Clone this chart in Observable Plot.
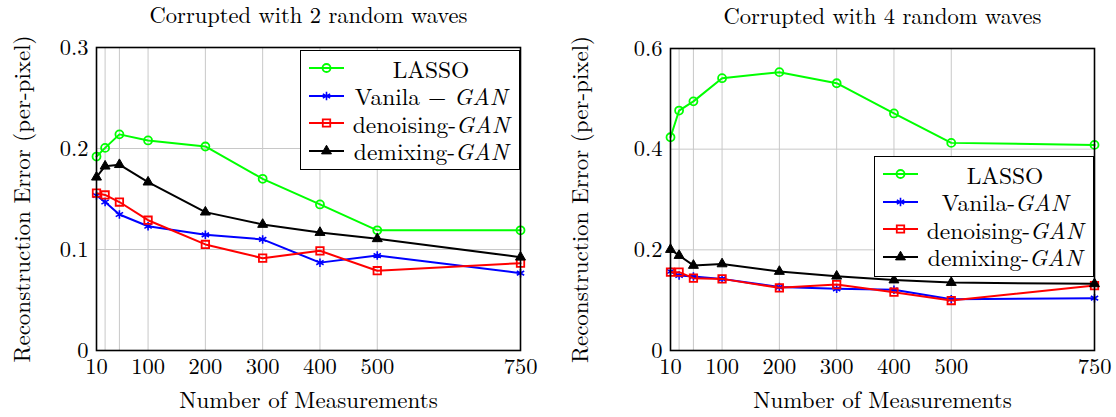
<!DOCTYPE html>
<html>
<head>
<meta charset="utf-8">
<script src="https://cdn.jsdelivr.net/npm/d3@7"></script>
<script src="https://cdn.jsdelivr.net/npm/@observablehq/plot@0.6"></script>
<style>
  html, body { margin: 0; padding: 0; background: white; }
  #wrap { position: relative; width: 1116px; height: 417px; font-family: "Latin Modern Roman", "Liberation Serif", serif; }
  .panel { position: absolute; top: 0; }
  .legend { position: absolute; background: white; border: 1.6px solid black; box-sizing: border-box; }
  .row { position: absolute; left: 0; width: 100%; height: 25px; }
  .row svg { position: absolute; left: 6px; top: 2.5px; }
  .row .lbl { position: absolute; left: 44px; width: 172px; text-align: center; font-size: 23.5px; line-height: 25px; height: 25px; top: 0; color: black; white-space: nowrap; }
</style>
</head>
<body>
<div id="wrap"></div>
<script>
// ---- data ----
const measurements = [10, 25, 50, 100, 200, 300, 400, 500, 750];
const xTickLabels = [10, 100, 200, 300, 400, 500, 750];
const seriesNames = ["LASSO", "Vanila-GAN", "denoising-GAN", "demixing-GAN"];

// Corrupted with 2 random waves
const lasso2    = [0.192, 0.2006, 0.214, 0.208, 0.202, 0.170, 0.1446, 0.119, 0.119];
const vanila2   = [0.1535, 0.147, 0.1347, 0.123, 0.1145, 0.110, 0.087, 0.094, 0.0766];
const denoise2  = [0.1558, 0.154, 0.147, 0.129, 0.105, 0.0914, 0.0987, 0.079, 0.0865];
const demix2    = [0.1716, 0.1825, 0.184, 0.1667, 0.137, 0.1248, 0.1168, 0.1106, 0.0924];
const yTicks2   = [0, 0.1, 0.2, 0.3];

// Corrupted with 4 random waves
const lasso4    = [0.4237, 0.4767, 0.495, 0.541, 0.553, 0.531, 0.471, 0.4125, 0.4085];
const vanila4   = [0.157, 0.149, 0.147, 0.1423, 0.126, 0.1225, 0.1205, 0.102, 0.104];
const denoise4  = [0.1556, 0.1556, 0.1437, 0.1423, 0.1245, 0.131, 0.1158, 0.0993, 0.129];
const demix4    = [0.2006, 0.1887, 0.169, 0.172, 0.157, 0.1476, 0.140, 0.135, 0.1324];
const yTicks4   = [0, 0.2, 0.4, 0.6];

// ---- styles ----
const FONT = '"Latin Modern Roman", "Liberation Serif", serif';
const styles = [
  {color: "#00ff00", symbol: "circle", r: 4, fill: "none", sw: 1.8},
  {color: "#0000ff", symbol: "asterisk", r: 4, fill: "none", sw: 1.6},
  {color: "#ff0000", symbol: "square", r: 4.2, fill: "none", sw: 1.8},
  {color: "#000000", symbol: "triangle", r: 3.7, fill: "#000000", sw: 1}
];

function makePanel({title, series, yTicks, marginLeft, marginRight, marginTop}) {
  const marks = [
    Plot.gridX(measurements, {stroke: "#c8c8c8", strokeOpacity: 1, strokeWidth: 1}),
    Plot.gridY(yTicks, {stroke: "#c8c8c8", strokeOpacity: 1, strokeWidth: 1}),
    Plot.axisX(xTickLabels, {tickSize: 0, tickPadding: 8, fontSize: 22.5, label: null, tickFormat: d => String(d)}),
    Plot.axisY(yTicks, {tickSize: 0, tickPadding: 8, fontSize: 22.5, label: null, tickFormat: d => d === 0 ? "0" : String(d)})
  ];
  series.forEach((vals, i) => {
    const s = styles[i];
    const data = measurements.map((m, j) => ({m, v: vals[j]}));
    marks.push(Plot.line(data, {x: "m", y: "v", stroke: s.color, strokeWidth: 2}));
    marks.push(Plot.dot(data, {x: "m", y: "v", symbol: () => s.symbol, r: s.r, stroke: s.color, fill: s.fill, strokeWidth: s.sw}));
  });
  marks.push(Plot.frame({stroke: "black", strokeWidth: 1.6}));
  marks.push(Plot.text([title], {text: d => d, frameAnchor: "top", dy: -32, fontSize: 22.5, lineAnchor: "middle", textAnchor: "middle", fill: "black"}));
  marks.push(Plot.text(["Number of Measurements"], {text: d => d, frameAnchor: "bottom", dy: 50, fontSize: 23, lineAnchor: "middle", textAnchor: "middle", fill: "black"}));
  marks.push(Plot.text(["Reconstruction Error (per-pixel)"], {text: d => d, frameAnchor: "left", dx: -(marginLeft - 22), rotate: -90, fontSize: 23, lineAnchor: "middle", textAnchor: "middle", fill: "black"}));
  return Plot.plot({
    width: 558, height: 417,
    marginLeft, marginRight, marginTop, marginBottom: 67,
    x: {type: "linear", domain: [10, 750]},
    y: {type: "linear", domain: [yTicks[0], yTicks[yTicks.length - 1]]},
    style: {fontFamily: FONT, background: "white", color: "black"},
    marks
  });
}

const wrap = document.getElementById("wrap");
const p1 = makePanel({title: "Corrupted with 2 random waves", series: [lasso2, vanila2, denoise2, demix2], yTicks: yTicks2, marginLeft: 96, marginRight: 38, marginTop: 47});
p1.classList.add("panel"); p1.style.left = "0px";
wrap.appendChild(p1);
const p2 = makePanel({title: "Corrupted with 4 random waves", series: [lasso4, vanila4, denoise4, demix4], yTicks: yTicks4, marginLeft: 112, marginRight: 22, marginTop: 48});
p2.classList.add("panel"); p2.style.left = "558px";
wrap.appendChild(p2);

// ---- legends ----
function symbolPath(i) {
  const s = styles[i];
  const map = {circle: d3.symbolCircle, asterisk: d3.symbolAsterisk, square: d3.symbolSquare, triangle: d3.symbolTriangle};
  return d3.symbol(map[s.symbol], Math.PI * s.r * s.r)();
}
function makeLegend(left, top, width, height, labels) {
  const div = document.createElement("div");
  div.className = "legend";
  div.style.left = left + "px"; div.style.top = top + "px";
  div.style.width = width + "px"; div.style.height = height + "px";
  labels.forEach((lab, i) => {
    const s = styles[i];
    const row = document.createElement("div");
    row.className = "row";
    row.style.top = (4.5 + i * 27.5) + "px";
    row.innerHTML = `<svg width="40" height="20"><line x1="2" x2="37" y1="10" y2="10" stroke="${s.color}" stroke-width="2"/><path transform="translate(19.5,10)" d="${symbolPath(i)}" fill="${s.fill}" stroke="${s.color}" stroke-width="${s.sw}"/></svg><div class="lbl">${lab}</div>`;
    div.appendChild(row);
  });
  wrap.appendChild(div);
}
makeLegend(300, 50, 220, 120, ["LASSO", "Vanila \u2212 <i>GAN</i>", "denoising-<i>GAN</i>", "demixing-<i>GAN</i>"]);
makeLegend(874, 156, 220, 121, ["LASSO", "Vanila-<i>GAN</i>", "denoising-<i>GAN</i>", "demixing-<i>GAN</i>"]);
</script>
</body>
</html>
